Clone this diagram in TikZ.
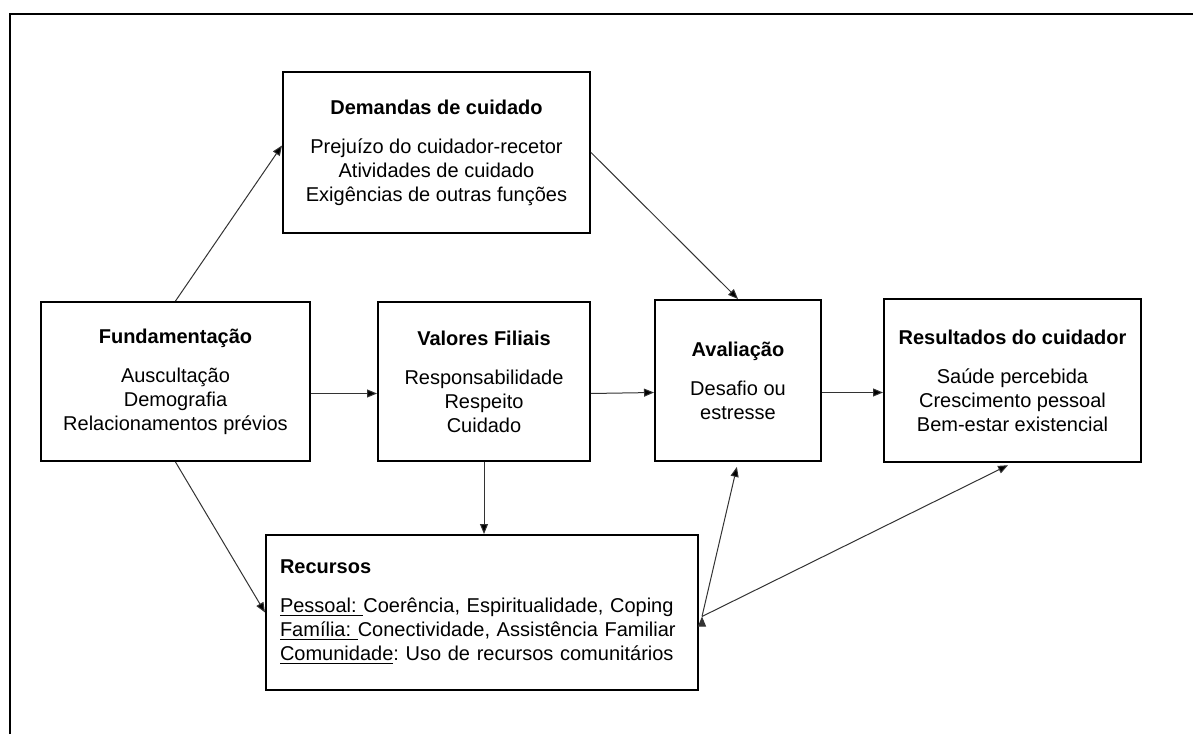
\documentclass[tikz,border=0pt]{standalone}
\usepackage{fontspec}
\setmainfont{Liberation Sans}
\usetikzlibrary{positioning,arrows.meta}
\tikzset{
    >={Triangle[length=5pt,width=4pt]},
    block/.style={
        rectangle,
        draw,
        line width=1pt,
        align=center,
        inner sep=2pt
    },
    link/.style={->, line width=0.5pt, draw=black!80}
}
\newcommand{\boxtitle}[1]{\textbf{#1}\\[7.5pt]}
\frenchspacing

\begin{document}
\begin{tikzpicture}[x=0.5pt, y=0.5pt, font=\fontsize{10}{12}\selectfont]

\useasboundingbox (0,0) rectangle (1193,734);
\draw[line width=1.3pt] (10,0) -- (10,720) -- (1193,720);

\node[block, minimum width=153.5pt, minimum height=80.5pt] (dem) at (436.5,581.5)
    {\boxtitle{Demandas de cuidado}
     Prejuízo do cuidador-recetor\\
     Atividades de cuidado\\
     Exigências de outras funções};

\node[block, minimum width=134.5pt, minimum height=79.5pt] (fund) at (175.5,352.5)
    {\boxtitle{Fundamentação}
     Auscultação\\
     Demografia\\
     Relacionamentos prévios};

\node[block, minimum width=106pt, minimum height=79.5pt] (val) at (484,352.5)
    {\boxtitle{Valores Filiais}
     Responsabilidade\\
     Respeito\\
     Cuidado};

\node[block, minimum width=83pt, minimum height=80.5pt] (ava) at (738,353.5)
    {\boxtitle{Avaliação}
     Desafio ou\\
     estresse};

\node[block, minimum width=128.5pt, minimum height=81.5pt] (res) at (1012.5,353.5)
    {\boxtitle{Resultados do cuidador}
     Saúde percebida\\
     Crescimento pessoal\\
     Bem-estar existencial};

\node[block, minimum width=216pt, minimum height=77.5pt, text width=202pt,
      inner xsep=7pt, align=left] (rec) at (482,121.5)
    {\boxtitle{Recursos}
     \underline{Pessoal: }Coerência, Espiritualidade, Coping\\
     \underline{Família: }Conectividade, Assistência Familiar\\
     \underline{Comunidade}: Uso de recursos comunitários};

\path[link]
    (fund.north) edge ([yshift=3.5pt]dem.west)
    (dem.east) edge (ava.north)
    ([yshift=-6pt]fund.east) edge ([yshift=-6pt]val.west)
    ([yshift=-6pt]val.east) edge ([yshift=-6pt]ava.west)
    ([yshift=-6pt]ava.east) edge ([yshift=-6pt]res.west)
    (val.south) edge (val.south |- rec.north)
    (fund.south) edge (rec.west)
    ([xshift=1.5pt,yshift=-2pt]rec.east) edge[shorten >=2.5pt] (ava.south)
    ([xshift=1.5pt,yshift=-2pt]rec.east) edge[shorten >=2.5pt] (res.south);

\end{tikzpicture}
\end{document}
